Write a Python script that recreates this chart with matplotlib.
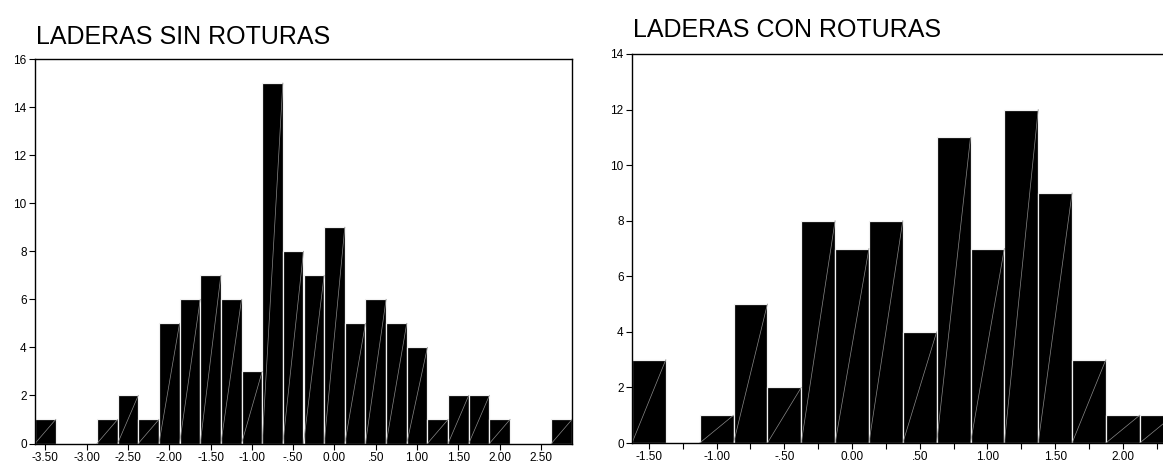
import numpy as np
import matplotlib
matplotlib.use('Agg')
import matplotlib.pyplot as plt
from matplotlib.ticker import FuncFormatter

plt.rcParams['font.family'] = ['Liberation Sans', 'DejaVu Sans']

# centros de clase (ancho .25) y frecuencias
centros_sin = [-3.50, -3.25, -3.00, -2.75, -2.50, -2.25, -2.00, -1.75, -1.50,
               -1.25, -1.00, -0.75, -0.50, -0.25, 0.00, 0.25, 0.50, 0.75,
               1.00, 1.25, 1.50, 1.75, 2.00, 2.25, 2.50, 2.75]
frec_sin = [1, 0, 0, 1, 2, 1, 5, 6, 7, 6, 3, 15, 8, 7, 9, 5, 6, 5, 4, 1, 2, 2,
            1, 0, 0, 1]

centros_con = [-1.50, -1.25, -1.00, -0.75, -0.50, -0.25, 0.00, 0.25, 0.50,
               0.75, 1.00, 1.25, 1.50, 1.75, 2.00, 2.25]
frec_con = [3, 0, 1, 5, 2, 8, 7, 8, 4, 11, 7, 12, 9, 3, 1, 1]

ticks_sin = [-3.5, -3.0, -2.5, -2.0, -1.5, -1.0, -0.5, 0.0, 0.5, 1.0, 1.5,
             2.0, 2.5]
ticks_con = [-1.5, -1.0, -0.5, 0.0, 0.5, 1.0, 1.5, 2.0]
menores_con = [-1.25, -0.75, -0.25, 0.25, 0.75, 1.25, 1.75, 2.25]

ancho = 0.25


def fmt_spss(v, pos=None):
    s = '%.2f' % v
    if abs(v) < 1 and v != 0:
        s = s.replace('0.', '.', 1)
    return s


def histo(ax, centros, frec):
    centros = np.array(centros)
    frec = np.array(frec)
    ax.bar(centros, frec, width=ancho, color='black', edgecolor='#f2f2f2',
           linewidth=0.9, zorder=1)
    # linea diagonal que aparece dentro de cada barra
    for c, f in zip(centros, frec):
        if f > 0:
            ax.plot([c - ancho / 2, c + ancho / 2], [0, f], color='#8a8a8a',
                    lw=0.5, zorder=1.5)
    for s in ax.spines.values():
        s.set_linewidth(1.0)
        s.set_color('black')
    ax.tick_params(axis='both', which='both', direction='out', length=4,
                   width=0.8, labelsize=8.5, pad=2, colors='black')
    ax.xaxis.set_major_formatter(FuncFormatter(fmt_spss))


fig = plt.figure(figsize=(11.63, 4.63), dpi=100)

ax1 = fig.add_axes([35 / 1163, 19.5 / 463, 537 / 1163, 384.5 / 463])
histo(ax1, centros_sin, frec_sin)
ax1.set_xlim(-3.625, 2.875)
ax1.set_ylim(0, 16)
ax1.set_xticks(ticks_sin)
ax1.set_yticks(range(0, 17, 2))
fig.text(36 / 1163, 1 - 44 / 463, 'LADERAS SIN ROTURAS', fontsize=18,
         ha='left', va='baseline')

ax2 = fig.add_axes([632 / 1163, 20 / 463, 541.6 / 1163, 389 / 463])
histo(ax2, centros_con, frec_con)
ax2.set_xlim(-1.625, 2.375)
ax2.set_ylim(0, 14)
ax2.set_xticks(ticks_con)
ax2.set_xticks(menores_con, minor=True)
ax2.set_yticks(range(0, 15, 2))
fig.text(633 / 1163, 1 - 37 / 463, 'LADERAS CON ROTURAS', fontsize=18,
         ha='left', va='baseline')

plt.savefig('out.png', dpi=100)
